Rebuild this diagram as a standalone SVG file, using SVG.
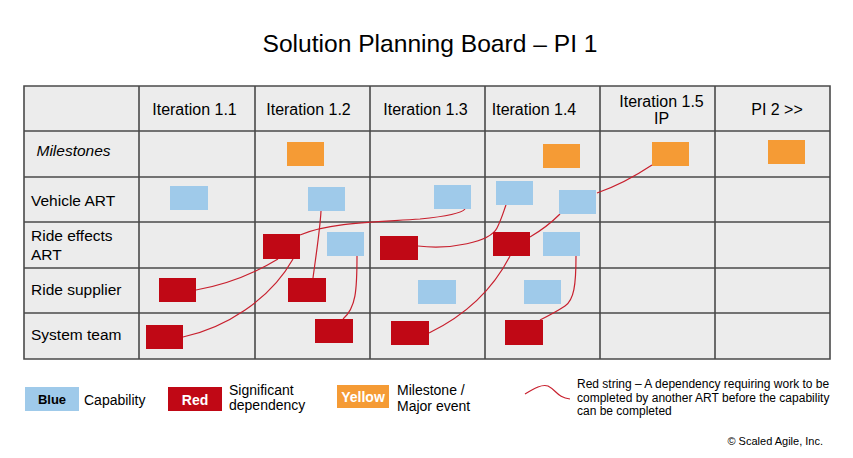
<svg xmlns="http://www.w3.org/2000/svg" width="853" height="458" viewBox="0 0 853 458">
<style>
text{font-family:"Liberation Sans",Arial,sans-serif;fill:#000}
.hd{font-size:16px;text-anchor:middle}
.rl{font-size:15.5px}
.grid{stroke:#4a4a4a;stroke-width:1.6;fill:none}
.b{fill:#9fcaea}
.r{fill:#c00815}
.o{fill:#f59b35}
.str{fill:none;stroke:#c8202e;stroke-width:1.2}
.lg{font-size:14px}
.sm{font-size:12px}
</style>
<rect width="853" height="458" fill="#fff"/>
<text x="430" y="52" style="font-size:24.6px" text-anchor="middle">Solution Planning Board – PI 1</text>
<g id="board">
<rect x="24" y="86" width="806" height="273" fill="#ececec"/>
<path class="grid" d="M24,86H830V359H24Z M139,86V359 M255,86V359 M370,86V359 M485,86V359 M600,86V359 M715,86V359 M24,131H830 M24,177H830 M24,222H830 M24,268H830 M24,313H830"/>
<text class="hd" x="194.5" y="114.5">Iteration 1.1</text>
<text class="hd" x="308.5" y="114.5">Iteration 1.2</text>
<text class="hd" x="425.5" y="114.5">Iteration 1.3</text>
<text class="hd" x="534" y="114.5">Iteration 1.4</text>
<text class="hd" x="661.5" y="107">Iteration 1.5</text>
<text class="hd" x="661.5" y="124">IP</text>
<text class="hd" x="777" y="114.5">PI 2 &gt;&gt;</text>
<text class="rl" x="36.5" y="156" font-style="italic">Milestones</text>
<text class="rl" x="31" y="206">Vehicle ART</text>
<text class="rl" x="31" y="240.5">Ride effects</text>
<text class="rl" x="31" y="259.5">ART</text>
<text class="rl" x="31" y="295">Ride supplier</text>
<text class="rl" x="31" y="340">System team</text>
</g>
<g id="connectors">
<path class="str" d="M196,290 C230,284 255,273 278,259"/>
<path class="str" d="M183,337 C225,328 270,300 293,259"/>
<path class="str" d="M300,235 C330,222 380,222 420,219 C450,216 462,213 465,209"/>
<path class="str" d="M313,278 C316,255 320,230 321,211"/>
<path class="str" d="M357,256 C357,290 356,308 343,319"/>
<path class="str" d="M418,246 C450,250 490,242 497,228 C502,218 504,210 506,205"/>
<path class="str" d="M530,237 C542,230 552,222 560,214"/>
<path class="str" d="M429,333 C460,318 490,295 510,256"/>
<path class="str" d="M576,256 C576,285 574,300 565,306 C556,312 548,316 540,320"/>
<path class="str" d="M597,193 C620,185 640,173 652,165"/>
</g>
<g id="milestones">
<rect class="o" x="287" y="142" width="37" height="24"/>
<rect class="o" x="543" y="144" width="37" height="24"/>
<rect class="o" x="652" y="142" width="37" height="24"/>
<rect class="o" x="768" y="140" width="37" height="24"/>
</g>
<g id="vehicle-art">
<rect class="b" x="170" y="186" width="38" height="24"/>
<rect class="b" x="308" y="187" width="37" height="24"/>
<rect class="b" x="434" y="185" width="37" height="24"/>
<rect class="b" x="496" y="181" width="37" height="24"/>
<rect class="b" x="559" y="190" width="37" height="24"/>
</g>
<g id="ride-effects-art">
<rect class="r" x="263" y="234" width="37" height="25"/>
<rect class="b" x="327" y="232" width="37" height="24"/>
<rect class="r" x="380" y="236" width="38" height="24"/>
<rect class="r" x="493" y="232" width="37" height="24"/>
<rect class="b" x="543" y="232" width="37" height="24"/>
</g>
<g id="ride-supplier">
<rect class="r" x="159" y="278" width="37" height="24"/>
<rect class="r" x="288" y="278" width="38" height="24"/>
<rect class="b" x="418" y="280" width="38" height="24"/>
<rect class="b" x="524" y="280" width="37" height="24"/>
</g>
<g id="system-team">
<rect class="r" x="146" y="325" width="37" height="24"/>
<rect class="r" x="315" y="319" width="38" height="24"/>
<rect class="r" x="391" y="321" width="38" height="24"/>
<rect class="r" x="505" y="320" width="38" height="25"/>
</g>
<g id="legend">
<rect class="b" x="25" y="387" width="54" height="24"/>
<text x="52" y="404" text-anchor="middle" style="font-size:13px;font-weight:bold">Blue</text>
<text class="lg" x="84" y="405">Capability</text>
<rect class="r" x="168" y="387" width="54" height="24"/>
<text x="195" y="404.5" text-anchor="middle" style="font-size:14px;font-weight:bold;fill:#fff">Red</text>
<text class="lg" x="229" y="395">Significant</text>
<text class="lg" x="229" y="410">dependency</text>
<rect class="o" x="337" y="385" width="52" height="23"/>
<text x="363" y="402" text-anchor="middle" style="font-size:14px;font-weight:bold;fill:#fff">Yellow</text>
<text class="lg" x="397" y="395">Milestone /</text>
<text class="lg" x="397" y="411">Major event</text>
<path class="str" d="M525,394 C535,388 542,384 548,386 C556,390 558,398 570,399"/>
<text class="sm" x="577" y="388">Red string – A dependency requiring work to be</text>
<text class="sm" x="577" y="401.5">completed by another ART before the capability</text>
<text class="sm" x="577" y="415">can be completed</text>
<text x="823" y="445" text-anchor="end" style="font-size:11px">© Scaled Agile, Inc.</text>
</g>
</svg>
